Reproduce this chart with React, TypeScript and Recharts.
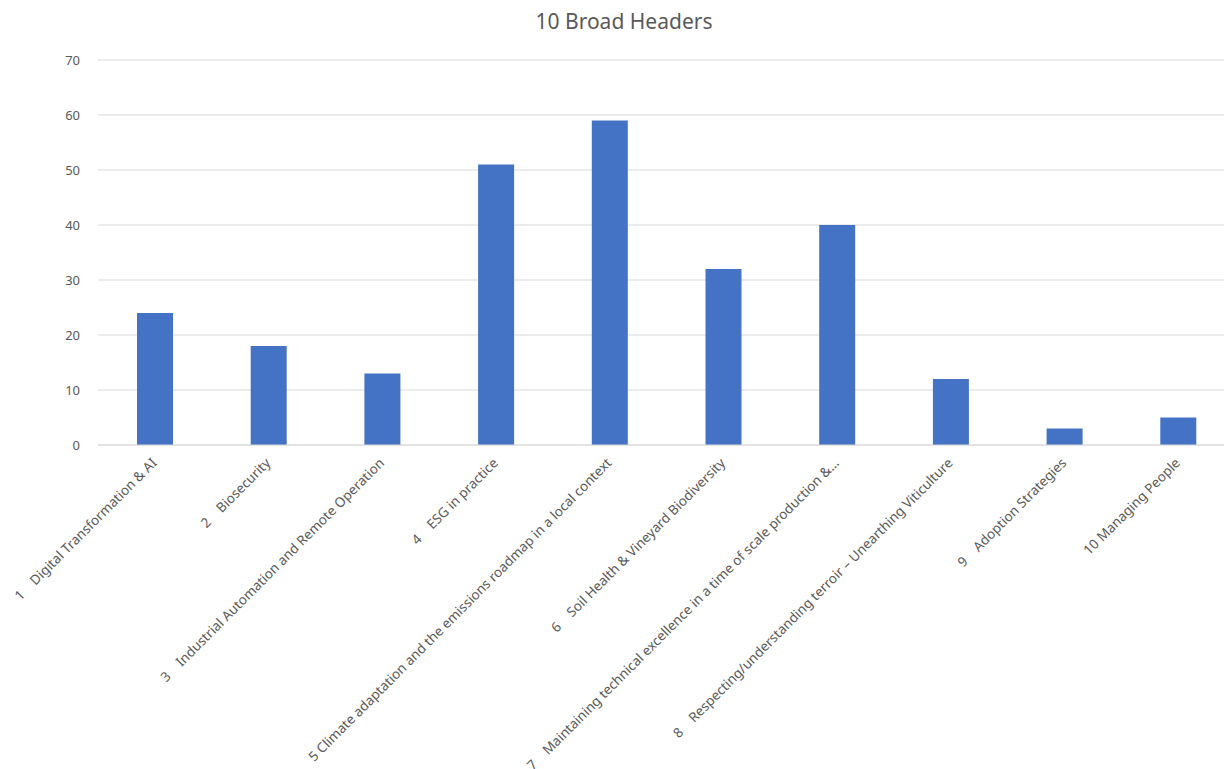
import { Bar, BarChart, CartesianGrid, XAxis, YAxis } from "recharts";

const categories = [
  "1    Digital Transformation & AI",
  "2    Biosecurity",
  "3    Industrial Automation and Remote Operation",
  "4    ESG in practice",
  "5 Climate adaptation and the emissions roadmap in a local context",
  "6    Soil Health & Vineyard Biodiversity",
  "7    Maintaining technical excellence in a time of scale production &...",
  "8    Respecting/understanding terroir – Unearthing Viticulture",
  "9    Adoption Strategies",
  "10 Managing People",
];
const counts = [24, 18, 13, 51, 59, 32, 40, 12, 3, 5];
const yTicks = [0, 10, 20, 30, 40, 50, 60, 70];

const data = categories.map((name, i) => ({ name, value: counts[i] }));

const FONT = "'Noto Sans', 'Open Sans', sans-serif";

function SlantTick(props: any) {
  const { x, y, payload } = props;
  return (
    <g transform={`translate(${x},${y + 8})`}>
      <text
        transform="rotate(-45)"
        textAnchor="end"
        dy={4}
        fill="#595959"
        fontSize={13.5}
        fontFamily={FONT}
        style={{ whiteSpace: "pre" }}
      >
        {payload.value}
      </text>
    </g>
  );
}

export default function App() {
  return (
    <div style={{ position: "absolute", left: 0, top: 0, width: 1224, height: 769, overflow: "hidden", background: "#fff" }}>
      <div
        style={{
          position: "absolute",
          top: 7,
          left: 0,
          width: 1248,
          textAlign: "center",
          fontFamily: FONT,
          fontSize: 21,
          color: "#595959",
        }}
      >
        10 Broad Headers
      </div>
      <BarChart
        width={1224}
        height={769}
        data={data}
        margin={{ top: 60, right: -11, left: 0, bottom: 0 }}
        style={{ overflow: "visible" }}
      >
        <CartesianGrid vertical={false} stroke="#d9d9d9" />
        <XAxis
          dataKey="name"
          interval={0}
          height={324}
          axisLine={{ stroke: "#d9d9d9" }}
          tickLine={false}
          tick={<SlantTick />}
        />
        <YAxis
          domain={[0, 70]}
          ticks={yTicks}
          width={98}
          axisLine={false}
          tickLine={false}
          tickMargin={12}
          tick={{ fill: "#595959", fontSize: 13, fontFamily: FONT }}
        />
        <Bar dataKey="value" fill="#4472C4" barSize={36} isAnimationActive={false} />
      </BarChart>
    </div>
  );
}
